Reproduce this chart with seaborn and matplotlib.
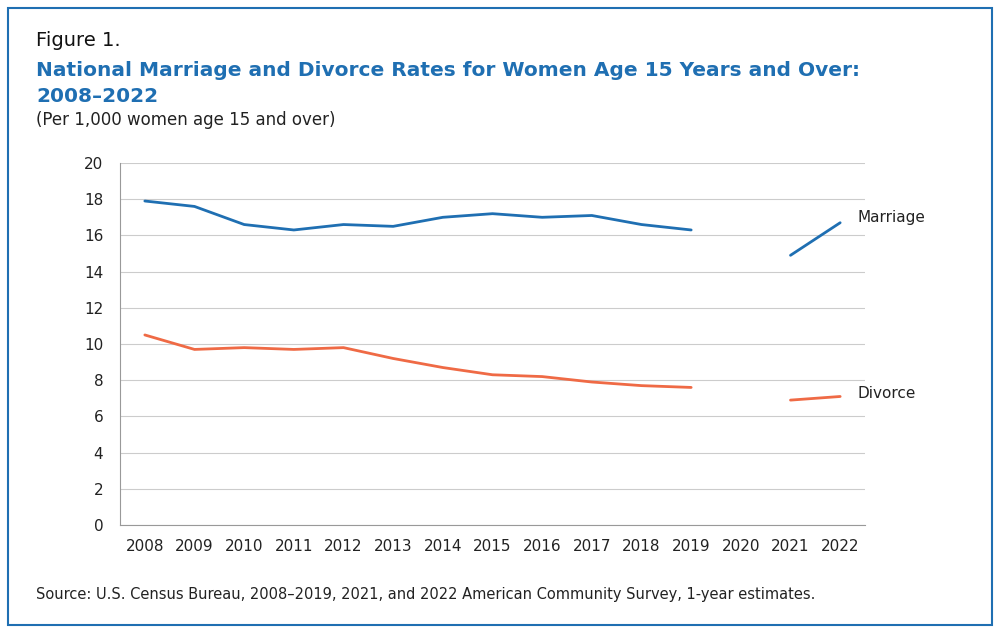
import matplotlib
matplotlib.use("Agg")
import matplotlib.pyplot as plt
import seaborn as sns
import numpy as np
import pandas as pd
from matplotlib.patches import Rectangle

years = list(range(2008, 2023))
marriage = [17.9, 17.6, 16.6, 16.3, 16.6, 16.5, 17.0, 17.2, 17.0, 17.1, 16.6, 16.3, np.nan, 14.9, 16.7]
divorce = [10.5, 9.7, 9.8, 9.7, 9.8, 9.2, 8.7, 8.3, 8.2, 7.9, 7.7, 7.6, np.nan, 6.9, 7.1]

sns.set_style("white")
plt.rcParams['font.family'] = ['DejaVu Sans']

fig = plt.figure(figsize=(10, 6.33), dpi=100)
ax = fig.add_axes([0.120, 1 - 525/633, 0.745, (525-163)/633])

df = pd.DataFrame({"year": years, "Marriage": marriage, "Divorce": divorce})
blue = "#1f6fb2"
orange = "#ef6a45"
for col, c in [("Marriage", blue), ("Divorce", orange)]:
    ax.plot(df["year"], df[col], color=c, lw=2)

ax.set_xlim(2007.5, 2022.5)
ax.set_ylim(0, 20)
ax.set_yticks(range(0, 21, 2))
ax.set_xticks(years)
ax.tick_params(axis='both', labelsize=11, colors="#222222", length=0)
ax.tick_params(axis='x', pad=10)
ax.tick_params(axis='y', pad=12)
ax.grid(axis='y', color="#cccccc", lw=0.8)
for s in ["top", "right"]:
    ax.spines[s].set_visible(False)
for s in ["left", "bottom"]:
    ax.spines[s].set_color("#999999")
    ax.spines[s].set_linewidth(0.8)
ax.set_axisbelow(True)

ax.text(2022.35, 16.7 + 0.3, "Marriage", fontsize=11, color="#222222", va="center")
ax.text(2022.35, 7.1 + 0.15, "Divorce", fontsize=11, color="#222222", va="center")

fig.text(0.036, 1 - 40/633, "Figure 1.", fontsize=14, color="#111111", va="center")
fig.text(0.036, 1 - 70/633, "National Marriage and Divorce Rates for Women Age 15 Years and Over:",
         fontsize=14.5, fontweight="bold", color=blue, va="center")
fig.text(0.036, 1 - 96/633, "2008–2022", fontsize=14.5, fontweight="bold", color=blue, va="center")
fig.text(0.036, 1 - 120/633, "(Per 1,000 women age 15 and over)", fontsize=12, color="#222222", va="center")
fig.text(0.036, 1 - 594/633, "Source: U.S. Census Bureau, 2008–2019, 2021, and 2022 American Community Survey, 1-year estimates.",
         fontsize=10.5, color="#222222", va="center")

fig.patches.append(Rectangle((0.008, 0.012), 0.984, 0.976, transform=fig.transFigure,
                             fill=False, edgecolor=blue, lw=1.5))
fig.savefig("out.png", dpi=100)
